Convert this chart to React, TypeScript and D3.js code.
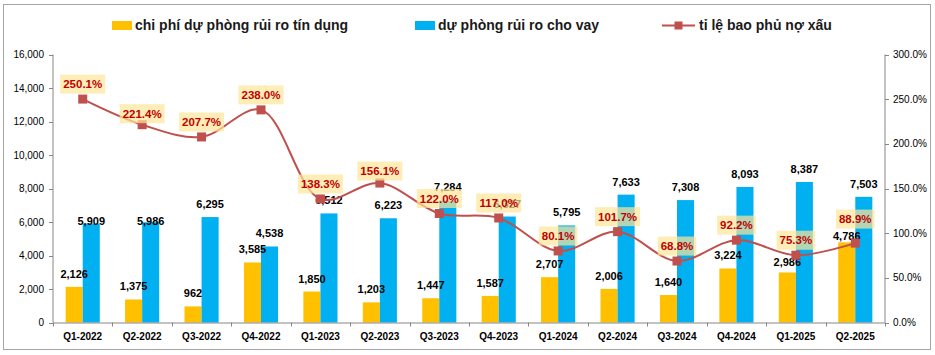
import React from "react";
import * as d3 from "d3";

const quarters = [
  "Q1-2022", "Q2-2022", "Q3-2022", "Q4-2022", "Q1-2023", "Q2-2023", "Q3-2023",
  "Q4-2023", "Q1-2024", "Q2-2024", "Q3-2024", "Q4-2024", "Q1-2025", "Q2-2025",
];
const provisionExpense = [2126, 1375, 962, 3585, 1850, 1203, 1447, 1587, 2707, 2006, 1640, 3224, 2986, 4786];
const loanLossReserve = [5909, 5986, 6295, 4538, 6512, 6223, 7284, 6327, 5795, 7633, 7308, 8093, 8387, 7503];
const nplCoverage = [250.1, 221.4, 207.7, 238.0, 138.3, 156.1, 122.0, 117.0, 80.1, 101.7, 68.8, 92.2, 75.3, 88.9];
const leftTicks = [0, 2000, 4000, 6000, 8000, 10000, 12000, 14000, 16000];
const rightTicks = [0, 50, 100, 150, 200, 250, 300];
const legendLabels = ["chi phí dự phòng rủi ro tín dụng", "dự phòng rủi ro cho vay", "tỉ lệ bao phủ nợ xấu"];

const YELLOW = "#FFC000";
const BLUE = "#00B0F0";
const LINE = "#C0504D";
const FONT = "'Liberation Sans', Arial, sans-serif";

export default function App() {
  const W = 935, H = 355;
  const x0 = 53, x1 = 885, yTop = 54.5, yBot = 322.5;
  const xBand = d3.scaleBand<string>().domain(quarters).range([x0, x1]).padding(0);
  const yLeft = d3.scaleLinear().domain([0, 16000]).range([yBot, yTop]);
  const yRight = d3.scaleLinear().domain([0, 300]).range([yBot, yTop]);
  const bw = xBand.bandwidth();
  const barW = bw * 0.287;
  const cx = (i: number) => (xBand(quarters[i]) as number) + bw / 2;
  const fmt = d3.format(",");
  const line = d3
    .line<number>()
    .x((_, i) => cx(i))
    .y((d) => yRight(d))
    .curve(d3.curveCatmullRom.alpha(0.5));

  // manual label nudges (pixels, relative to default placement), as in the original chart
  const expenseLabelNudge: Record<number, number> = { 12: 3, 13: 7 };
  const reserveLabelNudge: Record<number, number> = { 0: 10, 1: 12 };
  const pctLabelNudge: Record<number, number> = { 1: 4, 5: 3, 13: -9 };

  const pctFont = 11.5;
  const textW = (s: string) => {
    let w = 0;
    for (const ch of s) w += ch === "." ? 0.278 : ch === "%" ? 0.889 : 0.556;
    return w * pctFont;
  };

  return (
    <svg
      width={W}
      height={H}
      style={{ position: "absolute", left: 0, top: 0, fontFamily: FONT }}
    >
      <rect x={0} y={0} width={W} height={H} fill="#fff" />
      <rect x={3.5} y={4.5} width={927} height={345} fill="none" stroke="#A6A6A6" strokeWidth={1} />

      {/* legend */}
      <g fontSize={14} fontWeight="bold" fill="#1a1a1a">
        <rect x={112} y={21} width={20} height={9} fill={YELLOW} />
        <text x={135} y={30}>{legendLabels[0]}</text>
        <rect x={415} y={21} width={20} height={9} fill={BLUE} />
        <text x={438} y={30}>{legendLabels[1]}</text>
        <line x1={662} x2={695} y1={25.5} y2={25.5} stroke={LINE} strokeWidth={2} />
        <rect x={674.5} y={21.5} width={8} height={8} fill={LINE} />
        <text x={699} y={30}>{legendLabels[2]}</text>
      </g>

      {/* left axis */}
      <line x1={x0} x2={x0} y1={yTop} y2={yBot} stroke="#868686" />
      {leftTicks.map((t) => (
        <g key={"l" + t}>
          <line x1={x0 - 4} x2={x0} y1={Math.round(yLeft(t)) + 0.5} y2={Math.round(yLeft(t)) + 0.5} stroke="#868686" />
          <text x={44} y={yLeft(t) + 3.5} fontSize={10} textAnchor="end" fill="#000">
            {fmt(t)}
          </text>
        </g>
      ))}

      {/* right axis */}
      <line x1={x1} x2={x1} y1={yTop} y2={yBot} stroke="#868686" />
      {rightTicks.map((t) => (
        <g key={"r" + t}>
          <line x1={x1} x2={x1 + 4} y1={Math.round(yRight(t)) + 0.5} y2={Math.round(yRight(t)) + 0.5} stroke="#868686" />
          <text x={893} y={yRight(t) + 3.5} fontSize={10} fill="#000">
            {t.toFixed(1) + "%"}
          </text>
        </g>
      ))}

      {/* bars */}
      {quarters.map((q, i) => (
        <g key={"b" + q}>
          <rect
            x={cx(i) - barW}
            y={yLeft(provisionExpense[i])}
            width={barW}
            height={yBot - yLeft(provisionExpense[i])}
            fill={YELLOW}
          />
          <rect
            x={cx(i)}
            y={yLeft(loanLossReserve[i])}
            width={barW}
            height={yBot - yLeft(loanLossReserve[i])}
            fill={BLUE}
          />
        </g>
      ))}

      {/* x axis */}
      <line x1={x0} x2={x1} y1={yBot + 0.5} y2={yBot + 0.5} stroke="#868686" />
      {quarters.map((q) => (
        <line
          key={"xt" + q}
          x1={Math.round(xBand(q) as number) + 0.5}
          x2={Math.round(xBand(q) as number) + 0.5}
          y1={yBot}
          y2={yBot + 4}
          stroke="#868686"
        />
      ))}
      <line x1={x1 + 0.5} x2={x1 + 0.5} y1={yBot} y2={yBot + 4} stroke="#868686" />
      {quarters.map((q, i) => (
        <text key={"xl" + q} x={cx(i)} y={340} fontSize={10} fontWeight="bold" textAnchor="middle" fill="#000">
          {q}
        </text>
      ))}

      {/* bar labels */}
      {quarters.map((q, i) => (
        <g key={"bl" + q} fontSize={11} fontWeight="bold" fill="#000" textAnchor="middle">
          <text x={cx(i) - barW / 2} y={yLeft(provisionExpense[i]) - 9 + (expenseLabelNudge[i] || 0)}>
            {fmt(provisionExpense[i])}
          </text>
          <text x={cx(i) + barW / 2} y={yLeft(loanLossReserve[i]) - 9 + (reserveLabelNudge[i] || 0)}>
            {fmt(loanLossReserve[i])}
          </text>
        </g>
      ))}

      {/* line */}
      <path d={line(nplCoverage) || ""} fill="none" stroke={LINE} strokeWidth={2} />
      {nplCoverage.map((v, i) => (
        <rect key={"m" + i} x={cx(i) - 4.5} y={yRight(v) - 4.5} width={9} height={9} fill={LINE} />
      ))}

      {/* percent labels */}
      {nplCoverage.map((v, i) => {
        const s = v.toFixed(1) + "%";
        const w = textW(s) + 6;
        const yc = yRight(v) - 15 + (pctLabelNudge[i] || 0);
        return (
          <g key={"pl" + i}>
            <rect x={cx(i) - w / 2} y={yc - 9.5} width={w} height={19} fill="#FFE699" fillOpacity={0.7} />
            <text
              x={cx(i)}
              y={yc + 4}
              fontSize={pctFont}
              fontWeight="bold"
              textAnchor="middle"
              fill="#C00000"
            >
              {s}
            </text>
          </g>
        );
      })}
    </svg>
  );
}
